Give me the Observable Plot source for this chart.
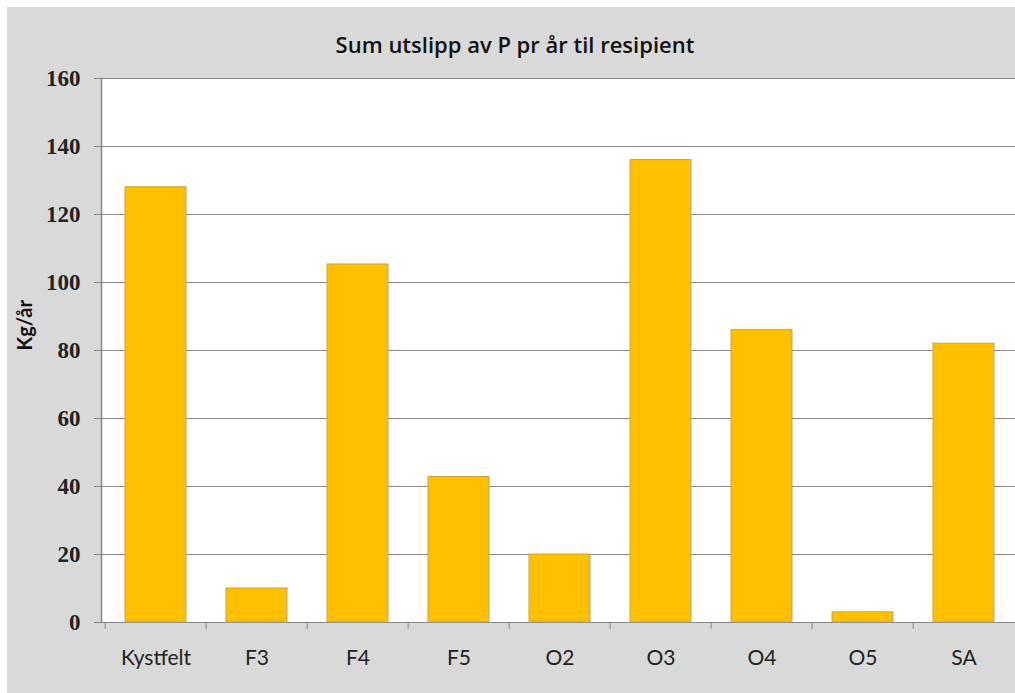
<!DOCTYPE html>
<html>
<head>
<meta charset="utf-8">
<script src="https://cdn.jsdelivr.net/npm/d3@7"></script>
<script src="https://cdn.jsdelivr.net/npm/@observablehq/plot@0.6"></script>
<style>
  html, body { margin: 0; padding: 0; background: #ffffff; overflow: hidden; }
  #wrap { position: relative; width: 1015px; height: 693px; overflow: hidden; }
  #bg { position: absolute; left: 7px; top: 7px; right: 0; bottom: 0; background: #d9d9d9; }
  #title { position: absolute; left: 101px; width: 828px; top: 29px; text-align: center;
           font-family: "Open Sans", Lato, sans-serif; font-weight: 600; font-size: 22px; color: #111; }
  #chart { position: absolute; left: 0; top: 0; width: 1020px; height: 693px; }
  #chart svg { max-width: none !important; }
</style>
</head>
<body>
<div id="wrap">
  <div id="bg"></div>
  <div id="title">Sum utslipp av P pr år til resipient</div>
  <div id="chart"></div>
</div>
<script>
const categories = ["Kystfelt", "F3", "F4", "F5", "O2", "O3", "O4", "O5", "SA"];
const values = [128, 10, 105.3, 42.8, 20, 136, 86, 3, 82];
const yTicks = [0, 20, 40, 60, 80, 100, 120, 140, 160];
const yLabel = "Kg/år";

const data = categories.map((c, i) => ({cat: c, val: values[i]}));

const W = 1020, H = 693, ML = 101, MR = 3, MT = 78, MB = 71;
const halfStep = (W - ML - MR) / categories.length / 2;
const grey = "#868686";

const chart = Plot.plot({
  width: W,
  height: H,
  marginLeft: ML,
  marginRight: MR,
  marginTop: MT,
  marginBottom: MB,
  style: {background: "transparent", overflow: "visible"},
  x: {domain: categories, paddingInner: 0.4, paddingOuter: 0.2, label: null},
  y: {domain: [0, 160], label: null},
  marks: [
    Plot.frame({fill: "white", stroke: null}),
    Plot.gridY(yTicks, {stroke: grey, strokeOpacity: 1, strokeWidth: 1}),
    Plot.frame({anchor: "left", stroke: grey, strokeWidth: 1.5}),
    Plot.barY(data, {x: "cat", y: "val", fill: "#ffc000", stroke: "#b9a567", strokeWidth: 1}),
    Plot.axisY(yTicks, {tickSize: 7, tickPadding: 14, stroke: grey, strokeOpacity: 1,
      fontFamily: "Liberation Serif, serif", fontWeight: "bold", fontSize: 23, fill: "#222", label: null}),
    Plot.axisX({tickSize: 7, stroke: grey, strokeOpacity: 1, tickFormat: () => "", dx: -halfStep, label: null}),
    Plot.axisX({tickSize: 0, tickPadding: 28, fontFamily: "Lato, sans-serif", fontSize: 21, fill: "#222", label: null}),
    Plot.text([yLabel], {frameAnchor: "left", text: d => d, rotate: -90, dx: -76,
      fontFamily: "Lato, sans-serif", fontWeight: "bold", fontSize: 20, fill: "#111"})
  ]
});
document.getElementById("chart").appendChild(chart);
</script>
</body>
</html>
